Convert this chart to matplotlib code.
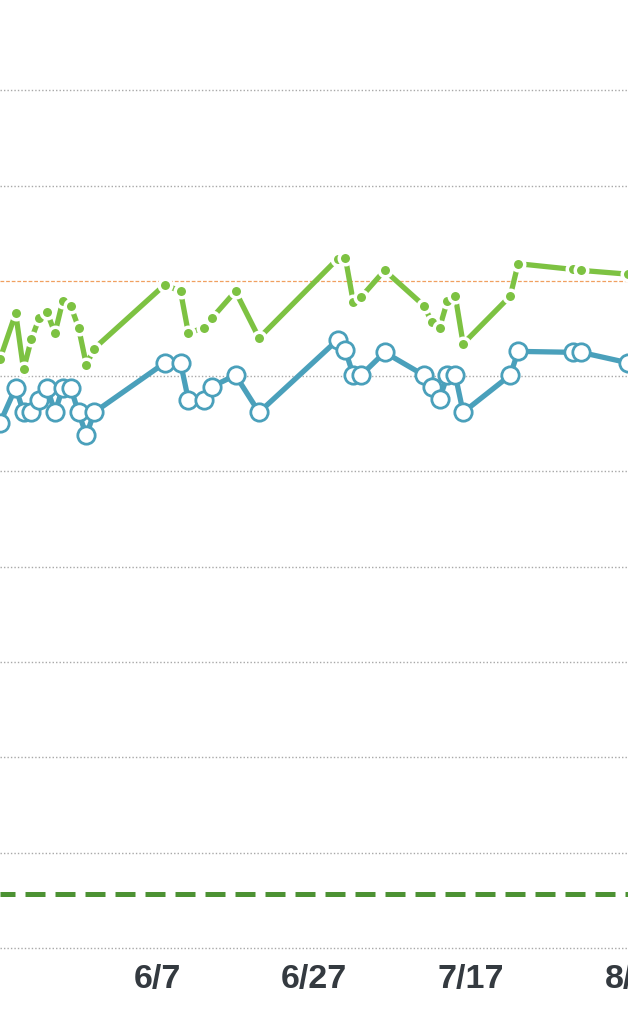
import matplotlib
matplotlib.use("Agg")
import matplotlib.pyplot as plt
import pandas as pd

# reading dates (all 2023)
dates = ["05-18", "05-20", "05-21", "05-22", "05-23", "05-24", "05-25", "05-26",
         "05-27", "05-28", "05-29", "05-30", "06-08", "06-10", "06-11", "06-13",
         "06-14", "06-17", "06-20", "06-30", "07-01", "07-02", "07-03", "07-06",
         "07-11", "07-12", "07-13", "07-14", "07-15", "07-16", "07-22", "07-23",
         "07-30", "07-31", "08-06"]

upper = [61.8, 66.6, 60.7, 63.9, 66.1, 66.7, 64.5, 67.9, 67.4, 65.1, 61.2, 62.9,
         69.6, 68.9, 64.5, 65.1, 66.1, 68.9, 64.0, 72.3, 72.4, 67.8, 68.3, 71.1,
         67.4, 65.7, 65.1, 67.9, 68.4, 63.4, 68.4, 71.8, 71.2, 71.1, 70.7]

lower = [55.1, 58.8, 56.2, 56.2, 57.5, 58.8, 56.2, 58.8, 58.8, 56.2, 53.8, 56.2,
         61.4, 61.4, 57.5, 57.5, 58.9, 60.1, 56.2, 63.8, 62.7, 60.1, 60.1, 62.5,
         60.1, 58.9, 57.6, 60.1, 60.1, 56.2, 60.1, 62.6, 62.5, 62.5, 61.4]

target_line = 70
base_line = 5.7
grid_vals = [0, 10, 20, 30, 40, 50, 60, 80, 90]

tick_dates = ["06-07", "06-27", "07-17", "08-06"]
tick_labels = ["6/7", "6/27", "7/17", "8/6"]

x = pd.to_datetime(["2023-" + d for d in dates])
ticks = pd.to_datetime(["2023-" + d for d in tick_dates])

fig = plt.figure(figsize=(6.28, 10.24), dpi=100)
ax = fig.add_axes([0, 0.0645, 1, 0.9355])

for v in grid_vals:
    ax.axhline(v, color="#a8a8a8", lw=1.0, ls=(0, (1, 1.5)), zorder=1)
ax.axhline(target_line, color="#f0a060", lw=0.9, ls=(0, (3, 1.5)), zorder=1)
ax.axhline(base_line, color="#4c9233", lw=3.6, ls=(1.0, (4.0, 2.0)), zorder=2)

ax.plot(x, upper, color="#7dc242", lw=3.8, marker="o", ms=9,
        mfc="#7dc242", mec="white", mew=2.5, zorder=3)
ax.plot(x, lower, color="#4aa0bb", lw=3.8, marker="o", ms=12.5,
        mfc="white", mec="#4aa0bb", mew=2.0, zorder=4)

ax.set_xlim(pd.Timestamp("2023-05-18"), pd.Timestamp("2023-08-06"))
ax.set_ylim(-1.05, 99.47)

ax.set_xticks(ticks)
ax.set_xticklabels(tick_labels, fontfamily="Liberation Sans", fontweight="bold",
                   fontsize=24.5, color="#343a40")
ax.tick_params(axis="x", length=0, pad=4)
ax.set_yticks([])
for s in ax.spines.values():
    s.set_visible(False)

fig.savefig("out.png", dpi=100)
